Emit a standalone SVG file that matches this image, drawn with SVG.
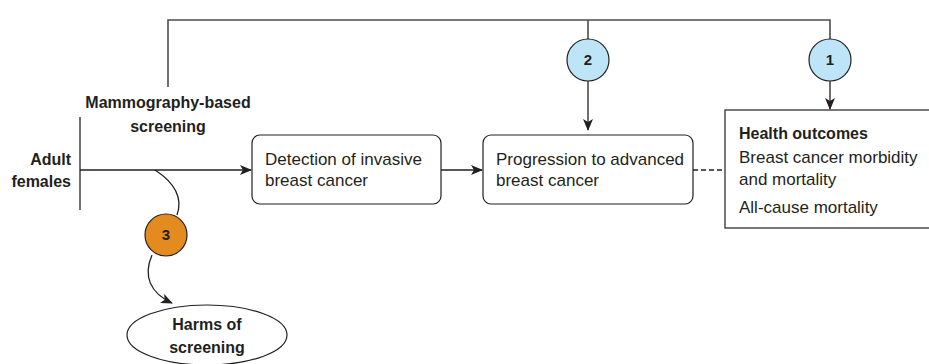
<svg xmlns="http://www.w3.org/2000/svg" width="929" height="364" viewBox="0 0 929 364">
<defs>
<marker id="ah" viewBox="0 0 12 10" refX="11" refY="5" markerWidth="12" markerHeight="10" markerUnits="userSpaceOnUse" orient="auto">
<path d="M0,0 L12,5 L0,10 L3,5 Z" fill="#231f20"/>
</marker>
<style>
.ln{fill:none;stroke:#231f20;stroke-width:1.3}
.top{fill:none;stroke:#4d4d4d;stroke-width:1.6}
.box{fill:#fff;stroke:#231f20;stroke-width:1.2}
.t{font-family:"Liberation Sans",Arial,sans-serif;font-size:17px;fill:#231f20}
.b{font-weight:bold;font-size:16px}
.blue{fill:#bde4f7;stroke:#231f20;stroke-width:1.2}
.orange{fill:#e38b1f;stroke:#231f20;stroke-width:1.2}
.num{font-family:"Liberation Sans",Arial,sans-serif;font-size:15px;font-weight:bold;fill:#231f20;text-anchor:middle}
</style>
</defs>
<g id="connectors">
<path class="top" d="M168,87 V20 H830 V39"/>
<path class="top" d="M588,20 V39"/>
<path class="ln" d="M588,81 V130" marker-end="url(#ah)"/>
<path class="ln" d="M830,81 V109" marker-end="url(#ah)"/>
<path class="ln" d="M80,117 V210"/>
<path class="ln" d="M80,170 H251" marker-end="url(#ah)"/>
<path class="ln" d="M441,170 H482" marker-end="url(#ah)"/>
<path class="ln" d="M693,170 H725" stroke-dasharray="5,3"/>
<path class="ln" d="M155,170 C175,183 183,198 177,215"/>
<path class="ln" d="M152,255 C143,276 150,293 172,303" marker-end="url(#ah)"/>
</g>
<g id="screening">
<text class="t b" x="168" y="108" text-anchor="middle">Mammography-based</text>
<text class="t b" x="168" y="132" text-anchor="middle">screening</text>
</g>
<g id="adult-females">
<text class="t b" x="71" y="165" text-anchor="end">Adult</text>
<text class="t b" x="71" y="187" text-anchor="end">females</text>
</g>
<g id="detection">
<rect class="box" x="252" y="135" width="189" height="69" rx="8"/>
<text class="t" x="265" y="165">Detection of invasive</text>
<text class="t" x="265" y="186">breast cancer</text>
</g>
<g id="progression">
<rect class="box" x="483" y="135" width="210" height="69" rx="8"/>
<text class="t" x="496" y="165">Progression to advanced</text>
<text class="t" x="496" y="186">breast cancer</text>
</g>
<g id="health-outcomes">
<rect class="box" x="725" y="110" width="210" height="118"/>
<text class="t b" x="739" y="139">Health outcomes</text>
<text class="t" x="739" y="163">Breast cancer morbidity</text>
<text class="t" x="739" y="185">and mortality</text>
<text class="t" x="739" y="213">All-cause mortality</text>
</g>
<g id="kq1">
<circle class="blue" cx="830" cy="60" r="21"/>
<text class="num" x="830" y="65">1</text>
</g>
<g id="kq2">
<circle class="blue" cx="588" cy="60" r="21"/>
<text class="num" x="588" y="65">2</text>
</g>
<g id="kq3">
<circle class="orange" cx="166" cy="235" r="21"/>
<text class="num" x="166" y="240">3</text>
</g>
<g id="harms">
<ellipse class="box" cx="207" cy="335" rx="80" ry="30"/>
<text class="t b" x="207" y="330" text-anchor="middle">Harms of</text>
<text class="t b" x="207" y="353" text-anchor="middle">screening</text>
</g>
</svg>
